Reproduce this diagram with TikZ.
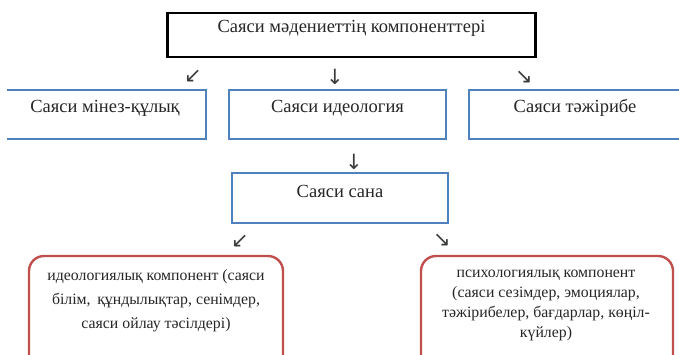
\documentclass[tikz,border=0pt]{standalone}
\usepackage{fontspec}
\setmainfont{Liberation Serif}
\newfontfamily\arrowfont{DejaVu Sans}
\definecolor{officeblue}{RGB}{79,129,189}
\definecolor{officered}{RGB}{192,80,77}
\definecolor{arrowgray}{RGB}{60,60,60}
\tikzset{
  topbox/.style={draw=black, line width=2.6pt, rectangle, inner sep=0pt},
  bluebox/.style={draw=officeblue, line width=2.2pt, rectangle, inner sep=0pt},
  redbox/.style={draw=officered, line width=2.4pt, rectangle, rounded corners=15pt, inner sep=0pt},
  boxtext/.style={font=\fontsize{18.5}{22}\selectfont, inner sep=0pt, text=black!85},
  redtext/.style={font=\fontsize{15.8}{20}\selectfont, inner sep=0pt, align=center, text=black!85},
  glyph/.style={font=\arrowfont\fontsize{21}{24}\selectfont, inner sep=0pt, text=arrowgray}
}
\begin{document}
\begin{tikzpicture}[x=1pt,y=-1pt]
\useasboundingbox (0,0) rectangle (679,355);
\fill[white] (0,0) rectangle (679,355);
% top box
\node[topbox, minimum width=368pt, minimum height=44pt] (top) at (351.5,35) {};
\node[boxtext] (toptext) at (351.5,28) {Саяси мәдениеттің компоненттері};
% arrows from top
\node[glyph] (a1) at (193,76) {↙};
\node[glyph] (a2) at (335,77) {↓};
\node[glyph] (a3) at (524,77) {↘};
% second row
\begin{scope}
\clip (7,80) rectangle (679,150);
\node[bluebox, minimum width=220pt, minimum height=49pt] (left) at (96,114.5) {};
\node[bluebox, minimum width=220pt, minimum height=49pt] (right) at (579,114.5) {};
\end{scope}
\node[boxtext] (lefttext) at (105,108) {Саяси мінез-құлық};
\node[bluebox, minimum width=217pt, minimum height=49pt] (mid) at (337.5,114.5) {};
\node[boxtext] (midtext) at (337.5,108) {Саяси идеология};
\node[boxtext] (righttext) at (575,108) {Саяси тәжірибе};
% arrow to sana
\node[glyph] (a4) at (354,162) {↓};
% sana box
\node[bluebox, minimum width=216pt, minimum height=50pt] (sana) at (340,198) {};
\node[boxtext] (sanatext) at (340,191) {Саяси сана};
% arrows from sana
\node[glyph] (a5) at (240,241) {↙};
\node[glyph] (a6) at (442,240) {↘};
% red boxes
\node[redbox, minimum width=254pt, minimum height=120pt] (ideo) at (156,316) {};
\node[redtext, font=\fontsize{15.8}{24}\selectfont] (ideotext) at (156,301) {идеологиялық компонент (саяси\\білім,\, құндылықтар, сенімдер,\\саяси ойлау тәсілдері)};
\node[redtext, font=\fontsize{15.8}{20}\selectfont] (psytext) at (546,305) {психологиялық компонент\\(саяси сезімдер, эмоциялар,\\тәжірибелер, бағдарлар, көңіл-\\күйлер)};
\node[redbox, minimum width=252pt, minimum height=120pt] (psy) at (547,316) {};
\end{tikzpicture}
\end{document}
